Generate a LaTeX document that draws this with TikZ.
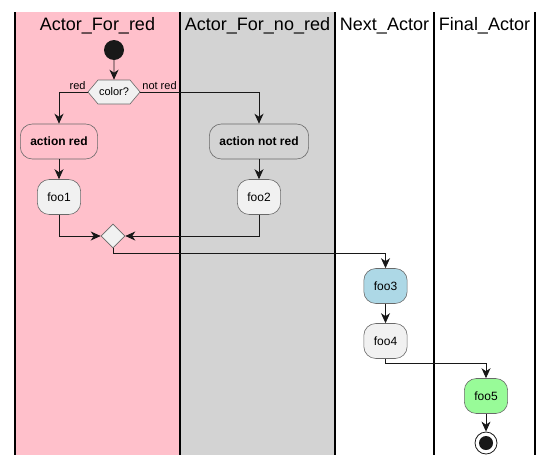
\documentclass[tikz,border=0pt]{standalone}
\usepackage{fontspec}
\setmainfont{Liberation Sans}
\usetikzlibrary{positioning}
\usetikzlibrary{shapes.geometric}
\usetikzlibrary{shapes.symbols}
\usetikzlibrary{arrows.meta}
\definecolor{lanered}{HTML}{FFC0CB}
\definecolor{lanegray}{HTML}{D3D3D3}
\definecolor{actfill}{HTML}{F1F1F1}
\definecolor{actblue}{HTML}{ADD8E6}
\definecolor{actgreen}{HTML}{98FB98}
\definecolor{ink}{HTML}{181818}
\tikzset{
	every node/.style = {font=\fontsize{12}{14}\selectfont},
	act/.style = {draw=ink!65, line width=0.6pt, fill=actfill, rounded corners=12pt,
		minimum height=35pt, inner xsep=10pt, inner ysep=0pt},
	flow/.style = {-{Stealth[length=10pt, width=9pt, inset=3pt]}, line width=0.9pt, draw=ink},
	lanetitle/.style = {font=\fontsize{18}{20}\selectfont},
	small/.style = {font=\fontsize{11}{13}\selectfont, inner sep=1.5pt}
}

\begin{document}
\begin{tikzpicture}[x=1pt, y=-1pt]
		\useasboundingbox (0,0) rectangle (553,466);
		% lanes
		\fill[lanered] (15,12) rectangle (180,455);
		\fill[lanegray] (180,12) rectangle (335,455);
		\foreach \x in {15, 180, 335, 434, 535}
			\draw[line width=1.2pt, black] (\x,12) -- (\x,455);
		\node[lanetitle] (t1) at (97.5,26) {Actor\_For\_red};
		\node[lanetitle] (t2) at (257.5,26) {Actor\_For\_no\_red};
		\node[lanetitle] (t3) at (384.5,26) {Next\_Actor};
		\node[lanetitle] (t4) at (484.5,26) {Final\_Actor};

		% nodes
		\node[circle, fill=ink, minimum size=20pt, inner sep=0pt] (start) at (114,50) {};
		\node[signal, signal to=west and east, signal pointer angle=100, draw=ink!65, line width=0.6pt,
			fill=actfill, font=\fontsize{11}{13}\selectfont, minimum height=24pt, inner xsep=1pt, inner ysep=0pt] (color) at (114,92) {color?};
		\node[act, fill=lanered, font=\bfseries\fontsize{12}{14}\selectfont] (red) at (59,141.5) {action red};
		\node[act, fill=lanegray, font=\bfseries\fontsize{12}{14}\selectfont] (notred) at (259,141.5) {action not red};
		\node[act] (foo1) at (59,197) {foo1};
		\node[act] (foo2) at (259,197) {foo2};
		\node[diamond, draw=ink!65, line width=0.6pt, fill=actfill, minimum size=24pt, inner sep=0pt] (merge) at (113,236) {};
		\node[act, fill=actblue] (foo3) at (385.5,286) {foo3};
		\node[act] (foo4) at (385.5,341) {foo4};
		\node[act, fill=actgreen] (foo5) at (486,396) {foo5};
		\node[circle, draw=ink, line width=0.8pt, fill=white, minimum size=22pt, inner sep=0pt,
			path picture={\fill[ink] (path picture bounding box.center) circle (7pt);}] (stop) at (486,443) {};

		% edges
		\draw[flow] (start) -- (color);
		\draw[flow] (color.west) -| (red.north) node[small, pos=0, above left] {red};
		\draw[flow] (color.east) -| (notred.north) node[small, pos=0, above right] {not red};
		\draw[flow] (red) -- (foo1);
		\draw[flow] (notred) -- (foo2);
		\draw[flow] (foo1.south) |- (merge.west);
		\draw[flow] (foo2.south) |- (merge.east);
		\draw[flow] (merge.south) -- ++(0,5) -| (foo3.north);
		\draw[flow] (foo3) -- (foo4);
		\draw[flow] (foo4.south) -- ++(0,5) -| (foo5.north);
		\draw[flow] (foo5) -- (stop);
	\end{tikzpicture}
\end{document}
